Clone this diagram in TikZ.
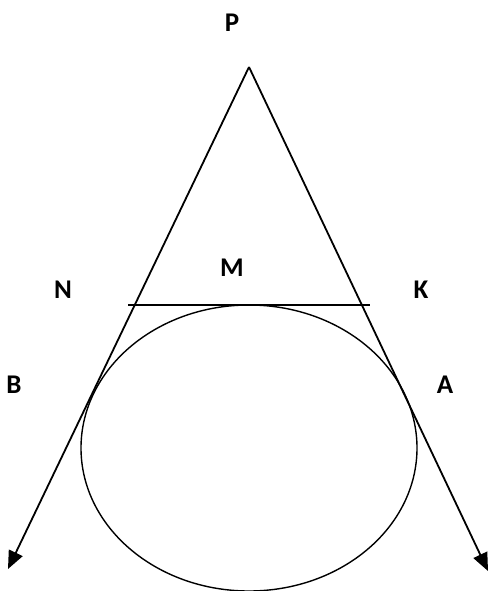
\documentclass[tikz,border=0pt]{standalone}
\usepackage{fontspec}
\setmainfont{Carlito}
\usepackage{tikz}
\usetikzlibrary{arrows.meta, positioning}

\begin{document}
\begin{tikzpicture}[
    x=1pt, y=-1pt,
    ray/.style={line width=1.8pt, -{Triangle[length=18pt, width=15pt]}},
    thin line/.style={line width=1.4pt},
    pointlabel/.style={font=\bfseries\fontsize{27}{31}\selectfont, inner sep=0pt},
]
    \useasboundingbox (0,0) rectangle (489,591);

    % Points
    \coordinate (P) at (249,67);
    \coordinate (Bend) at (8,569);
    \coordinate (Aend) at (488,571);
    \coordinate (N) at (128,305);
    \coordinate (K) at (370,305);
    \coordinate (O) at (249,448);

    % Circle and tangent lines
    \draw[thin line] (O) ellipse [x radius=168pt, y radius=143pt];
    \draw[thin line] (N) -- (K);
    \draw[ray] (P) -- (Bend);
    \draw[ray] (P) -- (Aend);

    % Labels
    \node[pointlabel] (lP) at (232,23) {P};
    \node[pointlabel] (lM) at (232,268) {M};
    \node[pointlabel] (lN) at (63,290) {N};
    \node[pointlabel] (lK) at (421,290) {K};
    \node[pointlabel] (lB) at (14,385) {B};
    \node[pointlabel] (lA) at (445,385) {A};
\end{tikzpicture}
\end{document}
